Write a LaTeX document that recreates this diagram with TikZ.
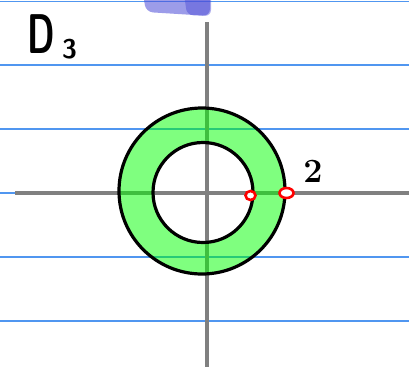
\documentclass[tikz,border=0pt]{standalone}
\usepackage{fontspec}
\usetikzlibrary{positioning,shapes.geometric}
\definecolor{ruleblue}{RGB}{80,150,240}
\definecolor{axisgray}{RGB}{128,128,128}
\definecolor{ringgreen}{RGB}{0,255,0}
\definecolor{blotblue}{RGB}{75,75,215}

\begin{document}
\begin{tikzpicture}[x=1pt, y=-1pt,
    ruled/.style={ruleblue, line width=1.5pt},
    axis/.style={axisgray, line width=3.4pt},
    rim/.style={black, line width=3.2pt},
    hole/.style={ellipse, draw=red, fill=white, line width=2.6pt, inner sep=0pt}]
    \useasboundingbox (0,0) rectangle (409,375);
    \fill[white] (0,0) rectangle (409,375);
    % ruled paper
    \foreach \y in {1.5,65,129,193,257,321}
      \draw[ruled] (0,\y) -- (409,\y);
    % blot of ink at the top
    \fill[blotblue, opacity=0.55, rounded corners=7pt] (143,-6) -- (210,-6) -- (210,16) -- (146,12) -- cycle;
    \fill[blotblue, opacity=0.45, rounded corners=6pt] (184,-6) -- (211,-6) -- (211,16) -- (187,15) -- cycle;
    % axes
    \coordinate (xl) at (15,193);
    \coordinate (xr) at (409,193);
    \coordinate (yt) at (207,22);
    \coordinate (yb) at (207,367);
    \draw[axis] (xl) -- (xr);
    \draw[axis] (yt) -- (yb);
    % the ring D_3
    \coordinate (o) at (202,191);
    \coordinate (oi) at (203,192.5);
    \fill[ringgreen, opacity=0.5, even odd rule] (o) circle[radius=83pt] (oi) circle[radius=50pt];
    \draw[rim] (o) circle[radius=83pt];
    \draw[rim] (oi) circle[radius=50pt];
    % open end points
    \node[hole, minimum width=10pt, minimum height=9pt] (pin) at (250.5,195.5) {};
    \node[hole, minimum width=14pt, minimum height=10pt] (pout) at (286.5,193) {};
    \node[anchor=base, font=\fontsize{34}{34}\selectfont\bfseries] (two) at (313,182) {2};
    % name
    \node[anchor=base west, inner sep=0pt, xscale=0.62, font=\fontsize{56}{56}\selectfont\sffamily\bfseries] (dname) at (27,53) {D};
    \node[anchor=base west, inner sep=0pt, font=\fontsize{27}{27}\selectfont\sffamily\bfseries] (dsub) at (62,58) {3};
\end{tikzpicture}
\end{document}
